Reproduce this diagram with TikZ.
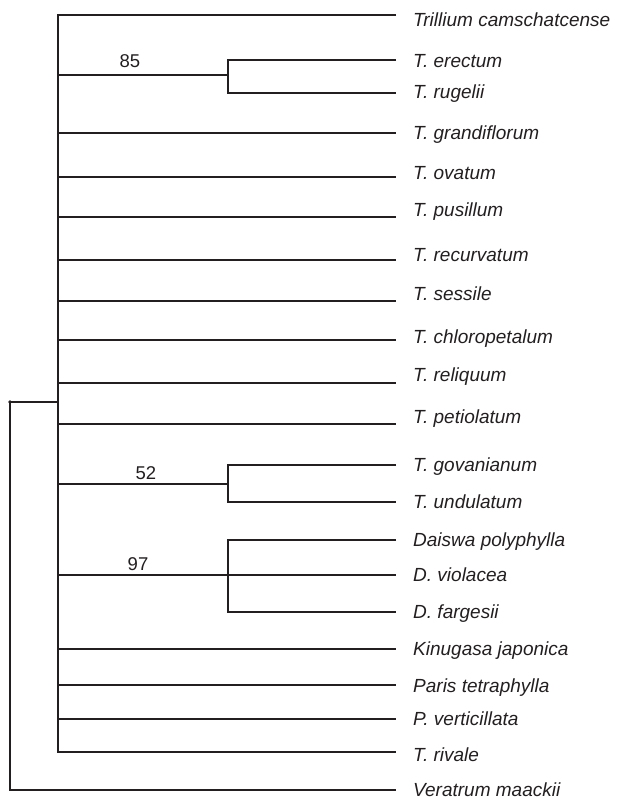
\documentclass[tikz,border=0pt]{standalone}
\usepackage{fontspec}
\setmainfont{Liberation Sans}
\definecolor{ink}{HTML}{231F20}
\begin{document}
\begin{tikzpicture}[x=1pt,y=-1pt,
  br/.style={draw=ink,line width=2.4pt,line join=miter,line cap=butt},
  taxon/.style={anchor=mid west,inner sep=0pt,yshift=-4pt,font=\fontsize{19}{21}\selectfont\itshape,text=ink},
  support/.style={inner sep=0pt,font=\fontsize{18.5}{20}\selectfont,text=ink}]
\useasboundingbox (0,0) rectangle (616,799);
% tip coordinates (x, y)
\coordinate (t1) at (396,15);
\coordinate (t2) at (396,60);
\coordinate (t3) at (396,93);
\coordinate (t4) at (396,133);
\coordinate (t5) at (396,177);
\coordinate (t6) at (396,217);
\coordinate (t7) at (396,260);
\coordinate (t8) at (396,301);
\coordinate (t9) at (396,340);
\coordinate (t10) at (396,383);
\coordinate (t11) at (396,424);
\coordinate (t12) at (396,465);
\coordinate (t13) at (396,502);
\coordinate (t14) at (396,540);
\coordinate (t15) at (396,575);
\coordinate (t16) at (396,612);
\coordinate (t17) at (396,649);
\coordinate (t18) at (396,685);
\coordinate (t19) at (396,719);
\coordinate (t20) at (396,752);
\coordinate (t21) at (396,790);
% internal nodes
\coordinate (root) at (10,402);
\coordinate (mid) at (58,402);
\coordinate (mbot) at (58,752);
\coordinate (c85) at (228,75);
\coordinate (c52) at (228,484);
\coordinate (c97) at (228,575);
% labels
\node[taxon] (l1) at (413,20) {Trillium camschatcense};
\node[taxon] (l2) at (413,61) {T. erectum};
\node[taxon] (l3) at (413,92) {T. rugelii};
\node[taxon] (l4) at (413,133) {T. grandiflorum};
\node[taxon] (l5) at (413,173) {T. ovatum};
\node[taxon] (l6) at (413,210) {T. pusillum};
\node[taxon] (l7) at (413,255) {T. recurvatum};
\node[taxon] (l8) at (413,294) {T. sessile};
\node[taxon] (l9) at (413,337) {T. chloropetalum};
\node[taxon] (l10) at (413,375) {T. reliquum};
\node[taxon] (l11) at (413,417) {T. petiolatum};
\node[taxon] (l12) at (413,465) {T. govanianum};
\node[taxon] (l13) at (413,502) {T. undulatum};
\node[taxon] (l14) at (413,540) {Daiswa polyphylla};
\node[taxon] (l15) at (413,575) {D. violacea};
\node[taxon] (l16) at (413,612) {D. fargesii};
\node[taxon] (l17) at (413,649) {Kinugasa japonica};
\node[taxon] (l18) at (413,686) {Paris tetraphylla};
\node[taxon] (l19) at (413,719) {P. verticillata};
\node[taxon] (l20) at (413,755) {T. rivale};
\node[taxon] (l21) at (413,790) {Veratrum maackii};
\node[support] (s85) at (130,61) {85};
\node[support] (s52) at (146,473) {52};
\node[support] (s97) at (138,564) {97};
% branches
\draw[br] (t1) -| (mbot) -- (t20);
\foreach \i in {4,5,6,7,8,9,10,11,17,18,19} {
  \draw[br] (mid |- t\i) -- (t\i);
}
\draw[br] (mid |- c85) -- (c85);
\draw[br] (t2) -| (c85) |- (t3);
\draw[br] (mid |- c52) -- (c52);
\draw[br] (t12) -| (c52) |- (t13);
\draw[br] (mid |- c97) -- (t15);
\draw[br] (t14) -| (c97) |- (t16);
\draw[br] (mid) -- (root) |- (t21);
\fill[ink] (root) circle (1.8pt);
\end{tikzpicture}
\end{document}
